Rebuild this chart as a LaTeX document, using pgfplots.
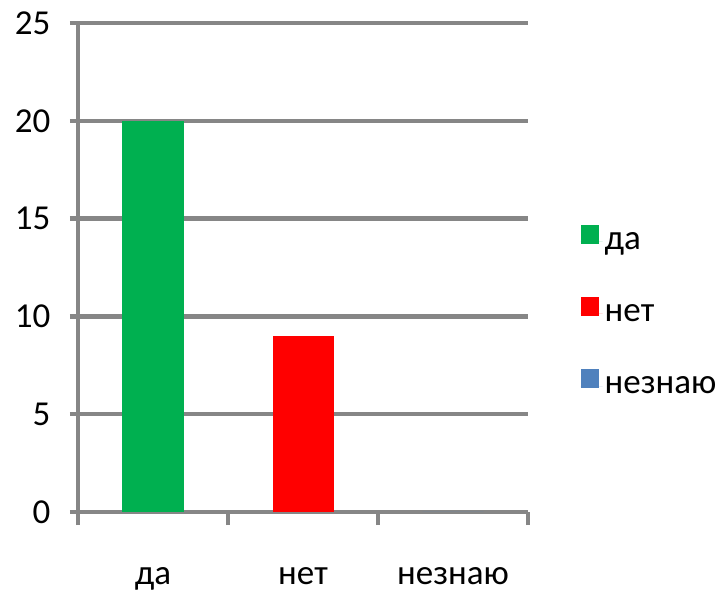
\documentclass[border=0pt]{standalone}
\usepackage{fontspec}
\setmainfont{Carlito}
\usepackage{pgfplots}
\pgfplotsset{compat=1.18}
\definecolor{gridgray}{HTML}{868686}
\definecolor{cgreen}{HTML}{00B050}
\definecolor{cred}{HTML}{FF0000}
\definecolor{cblue}{HTML}{4F81BD}
\begin{document}
\begin{tikzpicture}
\useasboundingbox (-78pt,-82pt) rectangle (642pt,512pt);
\begin{axis}[
  at={(0pt,0pt)}, anchor=south west,
  scale only axis,
  width=450pt, height=489pt,
  xmin=-0.5, xmax=2.5, ymin=0, ymax=25,
  axis x line=bottom, axis y line=left,
  axis line style={draw=gridgray, line width=4pt, -},
  xtick={0,1,2},
  xticklabels={да,нет,незнаю},
  minor xtick={-0.5,0.5,1.5,2.5},
  ytick={0,5,10,15,20,25},
  tick align=outside,
  x tick style={draw=none},
  minor x tick style={draw=gridgray, line width=4pt},
  minor tick length=13pt,
  y tick style={draw=gridgray, line width=4.5pt},
  major tick length=8pt,
  ymajorgrids,
  major grid style={draw=gridgray, line width=4.5pt},
  /pgf/number format/assume math mode=true,
  tick label style={font=\fontsize{35}{40}\selectfont},
  xticklabel style={yshift=-44pt},
  yticklabel style={xshift=-16pt},
  legend style={at={(1.11,0.592)}, anchor=north west, draw=none, fill=none,
    font=\fontsize{35}{40}\selectfont, row sep=44pt,
    legend cell align=left},
  legend image code/.code={\fill[#1] (0pt,-2pt) rectangle (18pt,17pt);
    \path (0pt,0pt) -- (22pt,0pt);},
  clip=false,
]
\addplot[ybar, bar width=61pt, bar shift=0pt, fill=cgreen, draw=none] coordinates {(0,20)};
\addlegendentry{да}
\addplot[ybar, bar width=61pt, bar shift=0pt, fill=cred, draw=none] coordinates {(1,9)};
\addlegendentry{нет}
\addplot[ybar, bar width=61pt, bar shift=0pt, fill=cblue, draw=none] coordinates {(2,0)};
\addlegendentry{незнаю}
\end{axis}
\end{tikzpicture}
\end{document}
